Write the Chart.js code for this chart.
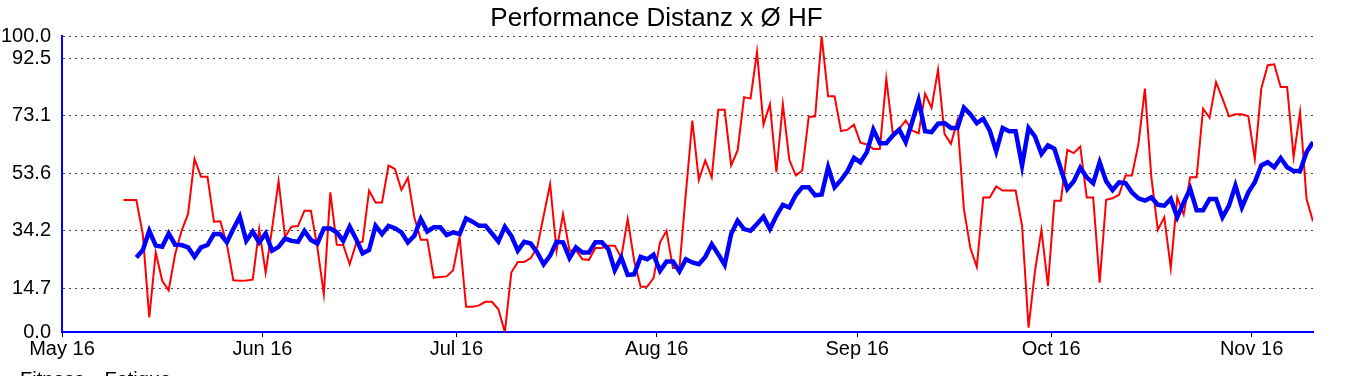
<!DOCTYPE html>
<html>
<head>
<meta charset="utf-8">
<script src="https://cdn.jsdelivr.net/npm/chart.js@4.4.1/dist/chart.umd.min.js"></script>
<style>
  html,body{margin:0;padding:0;background:#fff;overflow:hidden;}
  #wrap{position:absolute;left:0;top:0;width:1354px;height:400px;}
</style>
</head>
<body>
<div id="wrap"><canvas id="c"></canvas></div>
<script>
/* ===== 資料（日數自 5/1 起算，點在當日中午）===== */
const TITLE = 'Performance Distanz x Ø HF';
const MONTH_DAYS = [0, 31, 61, 92, 123, 153, 184];
const MONTH_LABELS = ['May 16','Jun 16','Jul 16','Aug 16','Sep 16','Oct 16','Nov 16'];
const Y_TICKS = [0, 14.7, 34.2, 53.6, 73.1, 92.5, 100];
const X_MAX = 193.5;

const FITNESS_START = 11.5;
const FITNESS = [
  25.2,27.7,34.2,29.2,28.8,33.3,29.5,29.4,28.6,25.4,28.6,29.4,33.1,33.1,30.3,34.8,39.0,30.8,33.9,30.3,
  33.3,27.5,28.8,31.6,30.8,30.5,34.2,31.1,29.9,35.0,35.0,33.7,30.8,35.6,31.4,26.6,27.7,35.9,33.1,35.9,
  35.1,33.7,30.3,32.5,38.2,34.0,35.4,35.4,32.8,33.7,33.1,38.4,37.3,35.9,35.9,33.3,30.6,35.6,32.5,27.5,
  30.5,29.9,26.9,22.9,25.8,30.5,30.3,25.0,28.6,26.9,26.9,30.3,30.3,28.0,20.9,25.2,19.3,19.5,25.4,24.6,
  26.1,20.7,23.8,23.8,20.5,24.6,23.5,22.9,25.4,29.7,26.3,22.7,33.1,37.6,34.8,34.2,36.5,39.0,34.8,39.3,
  43.0,42.1,46.3,48.9,48.9,46.2,46.5,55.7,48.9,51.4,54.4,58.9,57.4,60.8,68.4,63.8,63.8,66.4,68.4,64.2,
  71.0,78.3,67.9,67.6,70.4,70.6,69.0,69.0,75.8,73.6,70.6,72.1,68.1,61.1,69.0,67.9,67.9,56.3,69.0,66.1,
  60.2,63.1,61.9,55.1,48.4,51.0,55.5,52.3,50.3,57.4,51.0,48.0,50.6,50.3,47.2,45.2,44.4,45.5,43.0,42.7,
  45.0,38.8,43.8,48.4,41.2,41.2,45.0,45.0,38.8,42.7,49.5,42.1,47.2,50.6,56.3,57.4,55.7,58.8,55.7,54.4,
  54.4,60.8,64.2
];

const FATIGUE_START = 9.5;
const FATIGUE = [
  44.6,44.6,44.6,33.0,4.9,26.9,17.3,14.1,26.3,34.2,39.9,58.5,52.5,52.5,37.3,37.4,29.7,17.5,17.3,17.4,
  17.7,34.8,20.1,35.0,51.0,32.2,35.6,35.8,41.0,41.0,28.6,12.8,47.2,29.5,29.4,22.9,30.0,30.5,47.8,43.8,
  43.8,56.3,55.1,48.0,52.1,38.8,31.2,31.2,18.4,18.6,18.8,20.9,32.2,8.5,8.5,9.0,10.2,10.2,7.7,0.0,
  20.1,23.7,23.7,25.0,28.6,39.3,50.0,27.5,39.9,27.5,27.7,24.6,24.4,28.4,28.4,29.2,29.2,25.2,38.2,24.1,
  15.3,15.3,18.2,30.3,34.2,21.6,21.6,47.0,71.5,51.4,58.0,52.3,75.1,75.1,56.3,61.4,79.4,78.9,94.7,70.1,
  77.0,54.0,77.0,58.2,52.9,54.6,72.7,72.9,100.0,79.7,79.7,67.9,68.4,70.1,64.0,63.4,61.9,61.9,85.6,67.2,
  68.7,71.5,68.1,67.2,80.6,75.8,88.7,67.0,63.6,71.5,41.6,28.4,22.0,45.5,45.5,49.2,47.8,47.8,47.8,35.9,
  1.5,20.7,34.5,15.6,44.4,44.4,61.6,60.5,62.7,45.5,45.5,16.7,44.7,45.2,46.4,52.9,52.9,63.6,82.3,52.3,
  34.5,38.8,21.6,45.5,39.7,52.3,52.3,75.5,72.4,84.5,78.9,72.9,73.6,73.6,72.9,58.5,82.3,90.2,90.5,82.8,
  82.8,59.1,74.4,45.0,37.4
];

const FONT = '"Liberation Sans", Arial, sans-serif';
const BLUE = '#0000ff', RED = '#ff0000', PINK = 'rgba(255,0,0,0.15)';
const toXY = (arr, start) => arr.map((v,i) => ({x: start + i, y: v}));

new Chart(document.getElementById('c'), {
  type: 'line',
  data: {
    datasets: [
      {label:'Fitness', data: toXY(FITNESS, FITNESS_START), borderColor: BLUE, backgroundColor: BLUE,
       borderWidth: 4.5, pointRadius: 0, tension: 0, fill: false},
      {label:'Fatigue', data: toXY(FATIGUE, FATIGUE_START), borderColor: RED, backgroundColor: PINK,
       borderWidth: 2, pointRadius: 0, tension: 0, fill: false}
    ]
  },
  options: {
    responsive: true, maintainAspectRatio: false, animation: false,
    layout: {padding: {left: 0, right: 41, top: 0, bottom: 0}},
    plugins: {
      title: {display: true, text: TITLE, color: '#000', font: {family: FONT, size: 26, weight: 'normal'},
              padding: {top: 3, bottom: 2}},
      legend: {display: true, position: 'bottom', align: 'start',
               labels: {color: '#000', font: {family: FONT, size: 20}, boxWidth: 8, boxHeight: 2, padding: 2,
                        generateLabels: ch => ch.data.datasets.map((d,i) => ({
                          text: d.label, fillStyle: i === 0 ? BLUE : PINK,
                          strokeStyle: 'transparent', lineWidth: 0, datasetIndex: i}))}},
      tooltip: {enabled: false}
    },
    scales: {
      x: {
        type: 'linear', min: 0, max: X_MAX,
        afterBuildTicks: s => { s.ticks = MONTH_DAYS.map(v => ({value: v})); },
        afterFit: s => { s.height = 36; },
        ticks: {color: '#000', font: {family: FONT, size: 20}, padding: 0, maxRotation: 0, autoSkip: false,
                callback: v => MONTH_LABELS[MONTH_DAYS.indexOf(v)]},
        grid: {display: true, drawOnChartArea: false, drawTicks: true, tickLength: 5, color: '#000', lineWidth: 1},
        border: {display: true, color: BLUE, width: 2}
      },
      y: {
        min: 0, max: 100,
        afterBuildTicks: s => { s.ticks = Y_TICKS.map(v => ({value: v})); },
        afterFit: s => { s.width = 62; },
        ticks: {color: '#000', font: {family: FONT, size: 20}, padding: 11, callback: v => v.toFixed(1)},
        grid: {color: '#444', lineWidth: 1, drawTicks: false},
        border: {display: true, color: BLUE, width: 2, dash: [2,4]}
      }
    }
  }
});
</script>
</body>
</html>
